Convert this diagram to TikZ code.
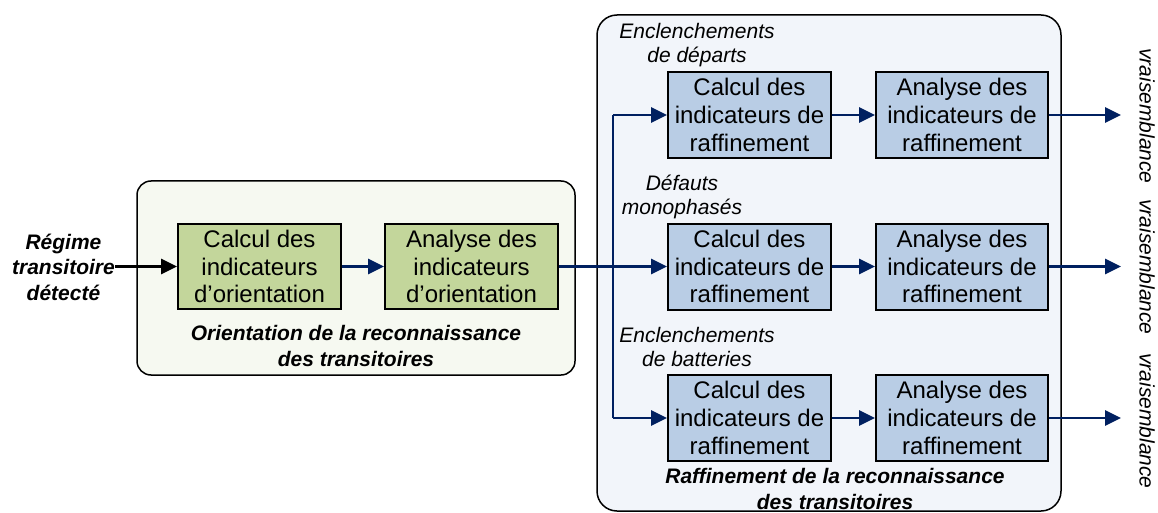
\documentclass[tikz,border=0pt]{standalone}
\usepackage{fontspec}
\setmainfont{Liberation Sans}
\usetikzlibrary{arrows.meta}
\definecolor{navy}{RGB}{0,32,96}
\definecolor{gfill}{RGB}{195,214,155}
\definecolor{gback}{RGB}{246,249,241}
\definecolor{bfill}{RGB}{185,205,229}
\definecolor{bback}{RGB}{242,245,250}
\tikzset{
  x=1pt, y=-1pt,
  container/.style={draw=black, line width=1.5pt, rounded corners=14pt, inner sep=0pt},
  gbox/.style={draw=black, line width=2pt, fill=gfill, minimum height=85pt, inner sep=0pt, align=center,
     font=\fontsize{24}{27.6}\selectfont},
  bbox/.style={draw=black, line width=2pt, fill=bfill, minimum height=86pt, inner sep=0pt, align=center,
     font=\fontsize{24}{27.6}\selectfont},
  flow/.style={draw=navy, line width=2.8pt, -{Triangle[length=16pt,width=15pt]}},
  blk/.style={draw=black, line width=2.8pt, -{Triangle[length=16pt,width=15pt]}},
  lab/.style={inner sep=0pt, align=center, font=\fontsize{21}{24}\selectfont\itshape},
  blab/.style={inner sep=0pt, align=center, font=\fontsize{21}{25.5}\selectfont\bfseries\itshape},
  vlab/.style={inner sep=0pt, rotate=-90, font=\fontsize{21}{24}\selectfont\itshape},
}
\begin{document}
\begin{tikzpicture}
\useasboundingbox (0,0) rectangle (1158,513);
% containers
\node[container, fill=gback, minimum width=438pt, minimum height=194pt] (gc) at (356,278) {};
\node[container, fill=bback, rounded corners=20pt, minimum width=464pt, minimum height=496pt] (bc) at (829,263) {};
% orientation boxes
\node[gbox, minimum width=163pt] (g1) at (259.5,266.5) {Calcul des\\indicateurs\\d’orientation};
\node[gbox, minimum width=173pt] (g2) at (471.5,266.5) {Analyse des\\indicateurs\\d’orientation};
% refinement boxes
\node[bbox, minimum width=163pt] (b11) at (749.5,115) {Calcul des\\indicateurs de\\raffinement};
\node[bbox, minimum width=172pt] (b12) at (962,115) {Analyse des\\indicateurs de\\raffinement};
\node[bbox, minimum width=163pt] (b21) at (749.5,266.5) {Calcul des\\indicateurs de\\raffinement};
\node[bbox, minimum width=172pt] (b22) at (962,266.5) {Analyse des\\indicateurs de\\raffinement};
\node[bbox, minimum width=163pt] (b31) at (749.5,418) {Calcul des\\indicateurs de\\raffinement};
\node[bbox, minimum width=172pt] (b32) at (962,418) {Analyse des\\indicateurs de\\raffinement};
% labels
\node[blab] (reg) at (63.5,267) {Régime\\transitoire\\détecté};
\node[blab] (lo) at (356,346) {Orientation de la reconnaissance\\des transitoires};
\node[blab] (lr) at (835,489) {Raffinement de la reconnaissance\\des transitoires};
\node[lab] (l1) at (697,45) {Enclenchements\\de départs};
\node[lab] (l2) at (682,197) {Défauts\\monophasés};
\node[lab] (l3) at (697,347) {Enclenchements\\de batteries};
\node[vlab] (v1) at (1147,116) {vraisemblance};
\node[vlab] (v2) at (1147,267) {vraisemblance};
\node[vlab] (v3) at (1147,421) {vraisemblance};
% connectors
\coordinate (jt) at (613,115);
\coordinate (jb) at (613,418);
\coordinate (o1) at (1121,115);
\coordinate (o2) at (1121,266.5);
\coordinate (o3) at (1121,418);
\draw[blk] (reg.east |- g1.west) -- (g1.west);
\draw[flow] (g1) -- (g2);
\draw[flow] (g2) -- (b21);
\draw[draw=navy, line width=2.8pt] (jt) -- (jb);
\draw[flow] (jt) -- (b11);
\draw[flow] (jb) -- (b31);
\draw[flow] (b11) -- (b12);
\draw[flow] (b21) -- (b22);
\draw[flow] (b31) -- (b32);
\draw[flow] (b12) -- (o1);
\draw[flow] (b22) -- (o2);
\draw[flow] (b32) -- (o3);
\end{tikzpicture}
\end{document}
